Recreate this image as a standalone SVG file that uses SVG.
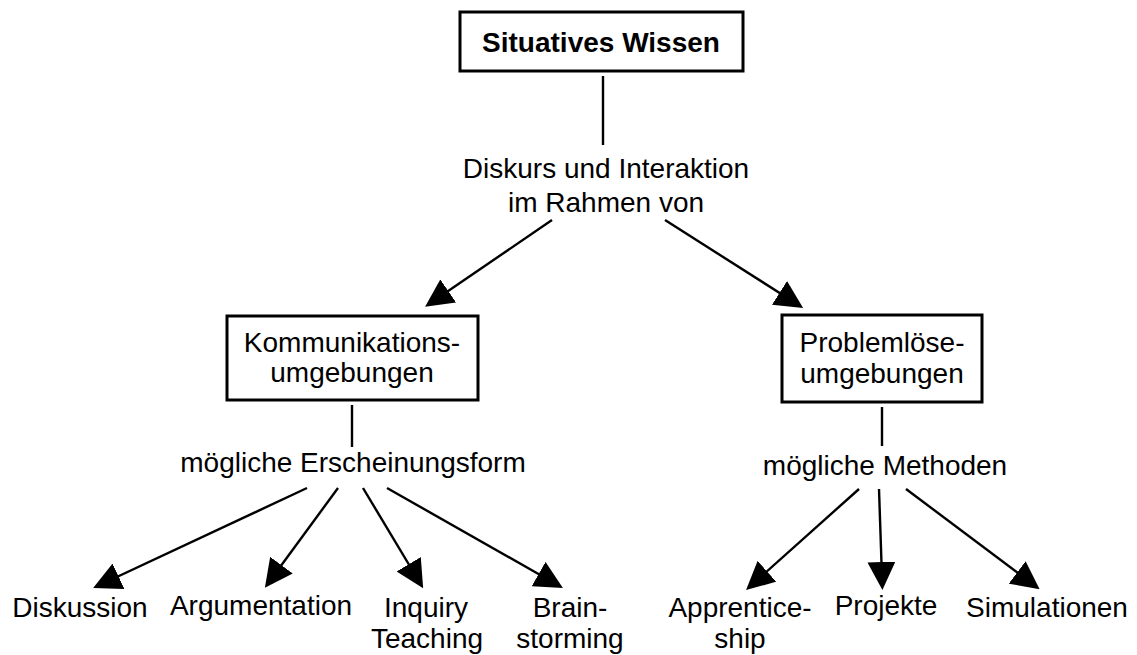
<svg xmlns="http://www.w3.org/2000/svg" width="1137" height="655" viewBox="0 0 1137 655">
  <style>
    text { font-family: "Liberation Sans", Arial, sans-serif; font-size: 28px; fill: #000; text-anchor: middle; }
    .title { font-weight: bold; }
    .box { fill: #fff; stroke: #000; stroke-width: 3; }
    .link { stroke: #000; stroke-width: 2.4; fill: none; }
    .arrow { marker-end: url(#head); }
  </style>
  <defs>
    <marker id="head" markerUnits="userSpaceOnUse" markerWidth="28" markerHeight="28" viewBox="0 0 28 28" refX="16" refY="14" orient="auto">
      <path d="M0,0 L28,14 L0,28 Z" fill="#000"/>
    </marker>
  </defs>
  <rect width="1137" height="655" fill="#fff"/>

  <!-- connectors -->
  <g id="connectors">
    <line class="link" x1="603" y1="76" x2="603" y2="145"/>
    <line class="link arrow" x1="552" y1="220" x2="435" y2="300"/>
    <line class="link arrow" x1="665" y1="220" x2="793" y2="301.5"/>
    <line class="link" x1="352" y1="405" x2="352" y2="447"/>
    <line class="link" x1="882" y1="407" x2="882" y2="446"/>
    <line class="link arrow" x1="307" y1="488" x2="104" y2="583"/>
    <line class="link arrow" x1="338" y1="488" x2="272" y2="578"/>
    <line class="link arrow" x1="363" y1="488" x2="417" y2="578"/>
    <line class="link arrow" x1="387" y1="488" x2="552.5" y2="582"/>
    <line class="link arrow" x1="859" y1="489" x2="755" y2="582"/>
    <line class="link arrow" x1="879" y1="489" x2="882" y2="578"/>
    <line class="link arrow" x1="906" y1="489" x2="1030" y2="582"/>
  </g>

  <!-- top node -->
  <g id="situatives-wissen">
    <rect class="box" x="460" y="12" width="283" height="59"/>
    <text class="title" x="601" y="52">Situatives Wissen</text>
  </g>

  <g id="diskurs-label">
    <text x="606" y="178">Diskurs und Interaktion</text>
    <text x="606" y="212">im Rahmen von</text>
  </g>

  <g id="kommunikation">
    <rect class="box" x="227" y="316" width="251" height="84"/>
    <text x="352" y="352">Kommunikations-</text>
    <text x="352" y="382">umgebungen</text>
  </g>

  <g id="problemloesen">
    <rect class="box" x="782" y="315" width="200" height="87"/>
    <text x="882" y="352">Problemlöse-</text>
    <text x="882" y="383">umgebungen</text>
  </g>

  <g id="erscheinungsform-label">
    <text x="353" y="472">mögliche Erscheinungsform</text>
  </g>

  <g id="methoden-label">
    <text x="885" y="475">mögliche Methoden</text>
  </g>

  <!-- leaves -->
  <g id="diskussion"><text x="80" y="617">Diskussion</text></g>
  <g id="argumentation"><text x="261" y="615">Argumentation</text></g>
  <g id="inquiry-teaching">
    <text x="426" y="617">Inquiry</text>
    <text x="427" y="648">Teaching</text>
  </g>
  <g id="brainstorming">
    <text x="570" y="617">Brain-</text>
    <text x="570" y="648">storming</text>
  </g>
  <g id="apprenticeship">
    <text x="740" y="617">Apprentice-</text>
    <text x="740" y="648">ship</text>
  </g>
  <g id="projekte"><text x="886" y="615">Projekte</text></g>
  <g id="simulationen"><text x="1047" y="617">Simulationen</text></g>
</svg>
